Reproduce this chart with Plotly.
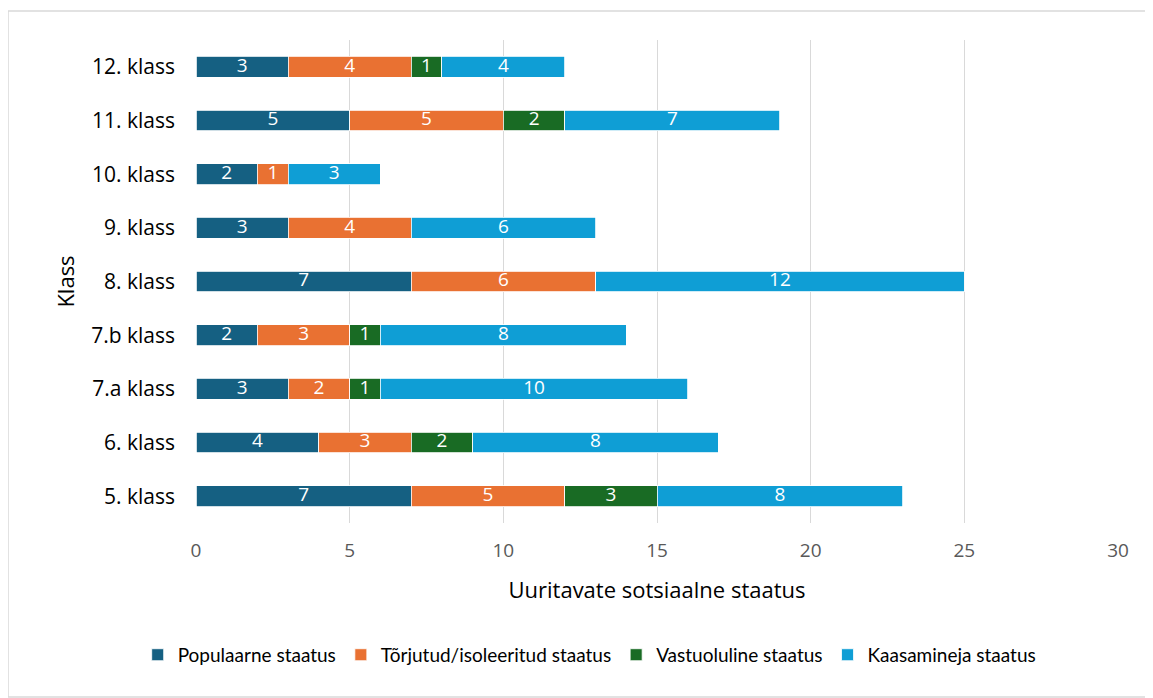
import plotly.graph_objects as go

categories = ["5. klass", "6. klass", "7.a klass", "7.b klass", "8. klass",
              "9. klass", "10. klass", "11. klass", "12. klass"]
populaarne = [7, 4, 3, 2, 7, 3, 2, 5, 3]
torjutud = [5, 3, 2, 3, 6, 4, 1, 5, 4]
vastuoluline = [3, 2, 1, 1, 0, 0, 0, 2, 1]
kaasamineja = [8, 8, 10, 8, 12, 6, 3, 7, 4]

series = [
    ("Populaarne staatus", populaarne, "#156082"),
    ("Tõrjutud/isoleeritud staatus", torjutud, "#E97132"),
    ("Vastuoluline staatus", vastuoluline, "#196B24"),
    ("Kaasamineja staatus", kaasamineja, "#0F9ED5"),
]

FONT = "Open Sans"
fig = go.Figure()
base = [0] * len(categories)
lab_x, lab_y, lab_t = [], [], []
for name, vals, color in series:
    fig.add_trace(go.Bar(
        y=categories, x=vals, name=name, orientation="h",
        marker=dict(color=color, line=dict(color="white", width=0.8)),
        textposition="none",
        hoverinfo="x+y+name",
    ))
    for i, v in enumerate(vals):
        if v:
            lab_x.append(base[i] + v / 2)
            lab_y.append(categories[i])
            lab_t.append(str(v))
        base[i] += v

fig.add_trace(go.Scatter(
    x=lab_x, y=lab_y, text=lab_t, mode="text", showlegend=False,
    textfont=dict(color="white", size=19, family=FONT), hoverinfo="skip",
))

fig.update_layout(
    barmode="stack",
    bargap=0.61,
    width=1153, height=698,
    margin=dict(l=188, r=43, t=32, b=183),
    plot_bgcolor="white", paper_bgcolor="white",
    font=dict(family=FONT, color="#404040"),
    xaxis=dict(
        range=[0, 30], dtick=5, showgrid=True, gridcolor="#D9D9D9", gridwidth=1.3,
        zeroline=False, showline=False,
        tickfont=dict(size=19, color="#595959", family=FONT),
        title=dict(text="Uuritavate sotsiaalne staatus", font=dict(size=22, color="#000000", family=FONT), standoff=20),
        ticklabelstandoff=14,
    ),
    yaxis=dict(
        showgrid=False, zeroline=False, showline=False,
        tickfont=dict(size=21, color="#000000", family=FONT),
        ticklabelstandoff=20,
        title=dict(text="Klass", font=dict(size=22, color="#000000", family=FONT), standoff=10),
    ),
    legend=dict(
        orientation="h", x=0.427, xanchor="center", y=-0.273, yanchor="middle",
        font=dict(size=19, color="#000000", family="Lato"),
        traceorder="normal", itemwidth=30,
    ),
    shapes=[dict(type="rect", xref="paper", yref="paper",
                 x0=-0.2039, x1=1.0369, y0=-0.36, y1=1.06,
                 line=dict(color="#D9D9D9", width=1.5), layer="below")],
)

fig.write_html("out.html")
